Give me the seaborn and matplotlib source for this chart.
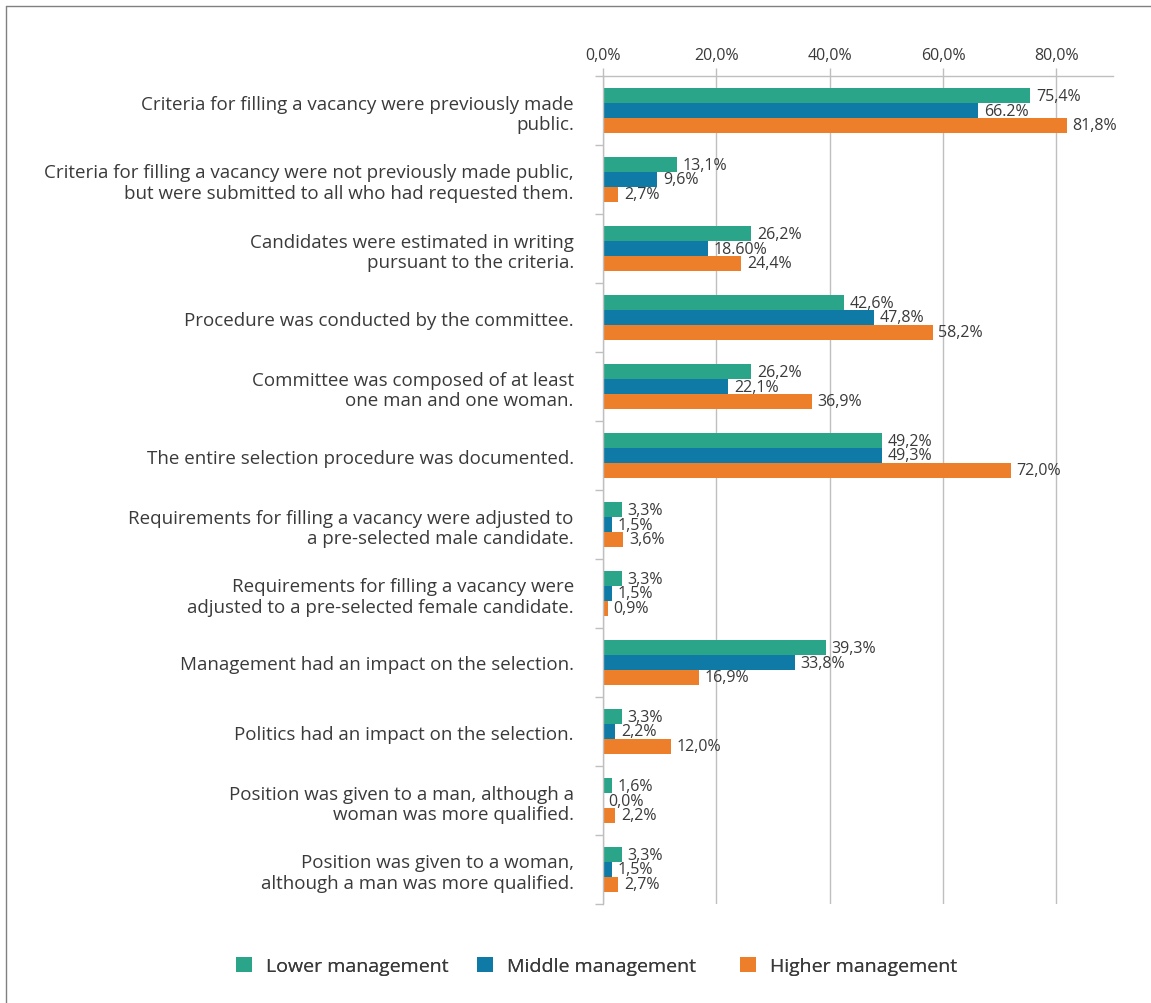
import matplotlib
matplotlib.use("Agg")
import matplotlib.pyplot as plt
from matplotlib.lines import Line2D
from matplotlib.patches import Patch
from matplotlib.ticker import FixedLocator, FuncFormatter
import seaborn as sns
import pandas as pd

# Survey statements (y categories)
statements = [
    "Criteria for filling a vacancy were previously made\npublic.",
    "Criteria for filling a vacancy were not previously made public,\nbut were submitted to all who had requested them.",
    "Candidates were estimated in writing\npursuant to the criteria.",
    "Procedure was conducted by the committee.",
    "Committee was composed of at least\none man and one woman.",
    "The entire selection procedure was documented.",
    "Requirements for filling a vacancy were adjusted to\na pre-selected male candidate.",
    "Requirements for filling a vacancy were\nadjusted to a pre-selected female candidate.",
    "Management had an impact on the selection.",
    "Politics had an impact on the selection.",
    "Position was given to a man, although a\nwoman was more qualified.",
    "Position was given to a woman,\nalthough a man was more qualified.",
]

levels = ["Lower management", "Middle management", "Higher management"]

lower = [75.4, 13.1, 26.2, 42.6, 26.2, 49.2, 3.3, 3.3, 39.3, 3.3, 1.6, 3.3]
middle = [66.2, 9.6, 18.6, 47.8, 22.1, 49.3, 1.5, 1.5, 33.8, 2.2, 0.0, 1.5]
higher = [81.8, 2.7, 24.4, 58.2, 36.9, 72.0, 3.6, 0.9, 16.9, 12.0, 2.2, 2.7]

lower_labels = ["75,4%", "13,1%", "26,2%", "42,6%", "26,2%", "49,2%",
                "3,3%", "3,3%", "39,3%", "3,3%", "1,6%", "3,3%"]
middle_labels = ["66.2%", "9,6%", "18.60%", "47,8%", "22,1%", "49,3%",
                 "1,5%", "1,5%", "33,8%", "2,2%", "0,0%", "1,5%"]
higher_labels = ["81,8%", "2,7%", "24,4%", "58,2%", "36,9%", "72,0%",
                 "3,6%", "0,9%", "16,9%", "12,0%", "2,2%", "2,7%"]

colors = ["#2AA58A", "#0F7AA6", "#EE7F2A"]
text_color = "#3a3a3a"
grid_color = "#bfbfbf"

df = pd.DataFrame({
    "statement": statements * 3,
    "level": [levels[0]] * 12 + [levels[1]] * 12 + [levels[2]] * 12,
    "value": lower + middle + higher,
})

sns.set_theme(style="white")
plt.rcParams["font.family"] = ["Open Sans", "DejaVu Sans"]

fig = plt.figure(figsize=(11.51, 10.04), dpi=100)
ax = fig.add_axes([603 / 1151, 1 - 905 / 1004, 510 / 1151, 828 / 1004])

sns.barplot(data=df, y="statement", x="value", hue="level", order=statements,
            hue_order=levels, palette=colors, orient="h", width=0.65,
            saturation=1, legend=False, linewidth=0, edgecolor="none", ax=ax)

# Value labels next to each bar
for cont, labs in zip(ax.containers, [lower_labels, middle_labels, higher_labels]):
    ax.bar_label(cont, labels=labs, padding=4, fontsize=11.5, color=text_color)

# Axes styling: values on top, vertical grid
ax.set_xlim(0, 90)
ax.set_ylim(11.5, -0.5)
ax.xaxis.set_ticks_position("top")
ax.xaxis.set_label_position("top")
ax.set_xticks([0, 20, 40, 60, 80])
ax.xaxis.set_major_formatter(FuncFormatter(lambda v, p: f"{v:.1f}%".replace(".", ",")))
ax.tick_params(axis="x", which="major", direction="out", length=6, width=1,
               color=grid_color, labelsize=11.5, labelcolor=text_color, pad=3)
ax.grid(axis="x", color=grid_color, linewidth=1)
ax.grid(axis="y", visible=False)
ax.set_axisbelow(True)

ax.set_xlabel("")
ax.set_ylabel("")
ax.tick_params(axis="y", which="major", length=0, labelsize=13.5,
               labelcolor=text_color, pad=21)
ax.yaxis.set_minor_locator(FixedLocator([i - 0.5 for i in range(13)]))
ax.tick_params(axis="y", which="minor", left=True, direction="out", length=6,
               width=1, color=grid_color)
for lab in ax.get_yticklabels():
    lab.set_linespacing(1.2)

for side in ["right", "bottom"]:
    ax.spines[side].set_visible(False)
for side in ["top", "left"]:
    ax.spines[side].set_color(grid_color)
    ax.spines[side].set_linewidth(1)

# Legend below the chart, one entry per level
legend_x = [236, 477, 740]
for lvl, col, xpix in zip(levels, colors, legend_x):
    leg = fig.legend([Patch(facecolor=col, edgecolor="none")], [lvl],
                     loc="center left", bbox_to_anchor=(xpix / 1151, 1 - 967 / 1004),
                     frameon=False, fontsize=14, handlelength=0.8, handleheight=0.8,
                     handletextpad=0.75, borderpad=0, borderaxespad=0,
                     labelcolor=text_color)
    fig.add_artist(leg)

# Outer frame on the left and top
fig.add_artist(Line2D([6 / 1151, 6 / 1151], [0, 1 - 7 / 1004], transform=fig.transFigure,
                      color="#808080", linewidth=1))
fig.add_artist(Line2D([6 / 1151, 1], [1 - 7 / 1004, 1 - 7 / 1004], transform=fig.transFigure,
                      color="#808080", linewidth=1))

fig.savefig("out.png", dpi=100, facecolor="white")
